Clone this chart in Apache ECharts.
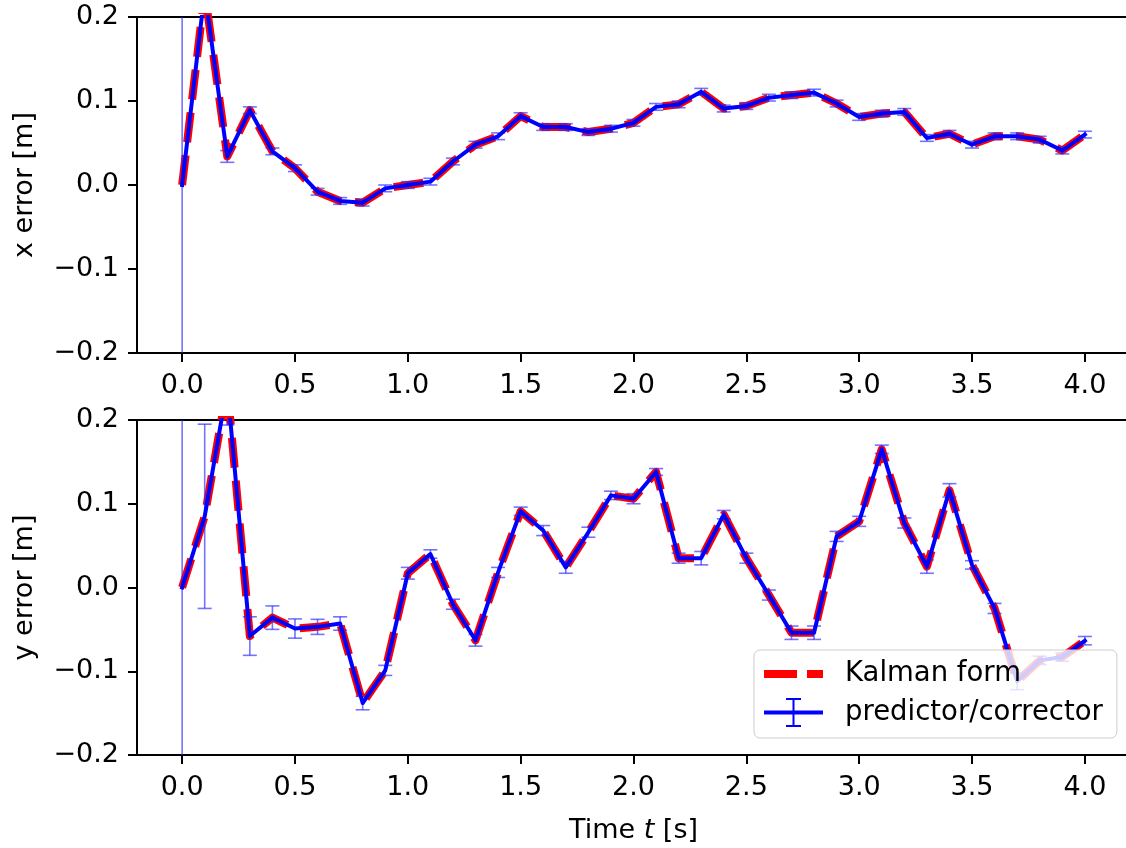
<!DOCTYPE html>
<html>
<head>
<meta charset="utf-8">
<script src="https://cdn.jsdelivr.net/npm/echarts@6/dist/echarts.min.js"></script>
<style>
  html, body { margin: 0; padding: 0; background: #fff; }
  #chart { width: 1126px; height: 848px; }
</style>
</head>
<body>
<div id="chart"></div>
<script>
// time stamps [s]
var timeS = [0.0, 0.1, 0.2, 0.3, 0.4, 0.5, 0.6, 0.7, 0.8, 0.9,
             1.0, 1.1, 1.2, 1.3, 1.4, 1.5, 1.6, 1.7, 1.8, 1.9,
             2.0, 2.1, 2.2, 2.3, 2.4, 2.5, 2.6, 2.7, 2.8, 2.9,
             3.0, 3.1, 3.2, 3.3, 3.4, 3.5, 3.6, 3.7, 3.8, 3.9, 4.0];

// x error [m] and its std (error bar half length)
var xError = [0.000, 0.230, 0.034, 0.089, 0.040, 0.020, -0.008, -0.019, -0.021, -0.004,
              0.000, 0.004, 0.028, 0.048, 0.058, 0.082, 0.069, 0.069, 0.063, 0.067,
              0.074, 0.093, 0.096, 0.111, 0.091, 0.094, 0.104, 0.107, 0.110, 0.097,
              0.081, 0.085, 0.087, 0.056, 0.061, 0.048, 0.058, 0.058, 0.054, 0.041, 0.060];
var xStd = [0.5, 0.02, 0.007, 0.004, 0.004, 0.004, 0.004, 0.004, 0.004, 0.004,
            0.004, 0.004, 0.004, 0.004, 0.004, 0.004, 0.004, 0.004, 0.004, 0.004,
            0.004, 0.004, 0.004, 0.004, 0.004, 0.004, 0.004, 0.004, 0.004, 0.004,
            0.004, 0.004, 0.004, 0.004, 0.004, 0.004, 0.004, 0.004, 0.004, 0.004, 0.004];

// y error [m] and its std
var yError = [0.000, 0.085, 0.240, -0.058, -0.036, -0.049, -0.047, -0.043, -0.138, -0.099,
              0.017, 0.040, -0.020, -0.063, 0.018, 0.091, 0.068, 0.024, 0.066, 0.110,
              0.106, 0.138, 0.035, 0.035, 0.087, 0.035, -0.009, -0.054, -0.054, 0.061,
              0.079, 0.165, 0.077, 0.025, 0.116, 0.027, -0.025, -0.112, -0.087, -0.083, -0.0635];
var yStd = [0.5, 0.11, 0.046, 0.023, 0.014, 0.0115, 0.009, 0.008, 0.008, 0.006,
            0.007, 0.005, 0.006, 0.007, 0.006, 0.005, 0.006, 0.007, 0.006, 0.005,
            0.006, 0.004, 0.006, 0.008, 0.005, 0.006, 0.006, 0.008, 0.008, 0.006,
            0.006, 0.005, 0.006, 0.008, 0.008, 0.005, 0.006, 0.010, 0.005, 0.005, 0.005];

var timeTicks = [0.0, 0.5, 1.0, 1.5, 2.0, 2.5, 3.0, 3.5, 4.0];

var FONT = 'DejaVu Sans';
var FS = 27;

function pairs(vals) {
    return timeS.map(function (t, i) { return [t, vals[i]]; });
}
function bars(vals, std) {
    return timeS.map(function (t, i) { return [t, vals[i] - std[i], vals[i] + std[i]]; });
}

function renderErrorBar(params, api) {
    var x = api.value(0);
    var top = api.coord([x, api.value(2)]);
    var bot = api.coord([x, api.value(1)]);
    var w = 7;
    var st = { stroke: 'rgba(40,40,255,0.65)', lineWidth: 1.6 };
    return {
        type: 'group',
        children: [
            { type: 'line', shape: { x1: top[0], y1: top[1], x2: bot[0], y2: bot[1] }, style: st },
            { type: 'line', shape: { x1: top[0] - w, y1: top[1], x2: top[0] + w, y2: top[1] }, style: st },
            { type: 'line', shape: { x1: bot[0] - w, y1: bot[1], x2: bot[0] + w, y2: bot[1] }, style: st }
        ]
    };
}

function yFmt(v) {
    var s = Math.abs(v).toFixed(1);
    return v < -1e-9 ? '\u2212' + s : s;
}

function xAxisCfg(idx, withName) {
    var ax = {
        type: 'value', gridIndex: idx, min: -0.2, max: 4.2, position: 'bottom',
        splitLine: { show: false },
        axisLine: { onZero: false, lineStyle: { color: '#000', width: 2 } },
        axisTick: { customValues: timeTicks, length: 9, lineStyle: { color: '#000', width: 2 } },
        axisLabel: {
            customValues: timeTicks, margin: 19, color: '#000', fontFamily: FONT, fontSize: FS,
            formatter: function (v) { return v.toFixed(1); }
        }
    };
    if (withName) {
        ax.name = 'Time {i|t} [s]';
        ax.nameLocation = 'middle';
        ax.nameGap = 62;
        ax.nameTextStyle = {
            color: '#000', fontFamily: FONT, fontSize: FS,
            rich: { i: { fontStyle: 'italic', fontFamily: FONT, fontSize: FS, color: '#000' } }
        };
    }
    return ax;
}

// top spine only (the right spine sits just outside the picture)
function topSpine(idx) {
    return {
        type: 'value', gridIndex: idx, min: -0.2, max: 4.2, position: 'top',
        splitLine: { show: false },
        axisLine: { onZero: false, lineStyle: { color: '#000', width: 2 } },
        axisTick: { show: false }, axisLabel: { show: false }
    };
}

function yAxisCfg(idx, name) {
    return {
        type: 'value', gridIndex: idx, min: -0.2, max: 0.2, interval: 0.1, position: 'left',
        name: name, nameLocation: 'middle', nameGap: 99,
        nameTextStyle: { color: '#000', fontFamily: FONT, fontSize: FS },
        splitLine: { show: false },
        axisLine: { onZero: false, lineStyle: { color: '#000', width: 2 } },
        axisTick: { length: 9, lineStyle: { color: '#000', width: 2 } },
        axisLabel: { margin: 18, color: '#000', fontFamily: FONT, fontSize: FS, formatter: yFmt }
    };
}

function seriesFor(idx, vals, std) {
    return [
        {
            name: 'Kalman form', type: 'line', xAxisIndex: idx, yAxisIndex: idx,
            data: pairs(vals), showSymbol: false, symbol: 'none', clip: true,
            color: '#ff0000', itemStyle: { color: '#ff0000' },
            lineStyle: { color: '#ff0000', width: 8, type: [30, 13], cap: 'butt', join: 'round' },
            z: 2, animation: false
        },
        {
            name: 'errbar', type: 'custom', xAxisIndex: idx, yAxisIndex: idx,
            data: bars(vals, std), renderItem: renderErrorBar, clip: true,
            encode: { x: 0, y: [1, 2] }, z: 3, animation: false, silent: true
        },
        {
            name: 'predictor/corrector', type: 'line', xAxisIndex: idx, yAxisIndex: idx,
            data: pairs(vals), showSymbol: false, symbol: 'none', clip: true,
            color: '#0000ff', itemStyle: { color: '#0000ff' },
            lineStyle: { color: '#0000ff', width: 4, cap: 'square', join: 'round' },
            z: 4, animation: false
        }
    ];
}

var chart = echarts.init(document.getElementById('chart'), null, { renderer: 'canvas' });

chart.setOption({
    animation: false,
    backgroundColor: '#fff',
    textStyle: { fontFamily: FONT },
    grid: [
        { left: 137, top: 17, width: 993, height: 336, outerBoundsMode: 'none', containLabel: false },
        { left: 137, top: 420, width: 993, height: 335, outerBoundsMode: 'none', containLabel: false }
    ],
    xAxis: [xAxisCfg(0, false), xAxisCfg(1, true), topSpine(0), topSpine(1)],
    yAxis: [yAxisCfg(0, 'x error [m]'), yAxisCfg(1, 'y error [m]')],
    legend: {
        orient: 'vertical', align: 'left',
        left: 754, top: 650,
        itemWidth: 59, itemHeight: 30, itemGap: 10,
        padding: [10, 14, 11, 10],
        backgroundColor: 'rgba(255,255,255,0.8)',
        borderColor: '#cccccc', borderWidth: 1, borderRadius: 6,
        itemStyle: { borderWidth: 0 },
        textStyle: { color: '#000', fontFamily: FONT, fontSize: 27.5, padding: [3, 0, 0, 17] },
        selectedMode: false,
        z: 10,
        data: [
            { name: 'Kalman form', icon: 'path://M0,0h33v8h-33z M43,0h16v8h-16z', itemStyle: { color: '#ff0000' } },
            { name: 'predictor/corrector',
              icon: 'path://M0,12.5h59v4h-59z M28.5,0h2v29h-2z M22,0h15v2h-15z M22,27h15v2h-15z',
              itemStyle: { color: '#0000ff' } }
        ]
    },
    series: [].concat(seriesFor(0, xError, xStd), seriesFor(1, yError, yStd))
});
</script>
</body>
</html>
